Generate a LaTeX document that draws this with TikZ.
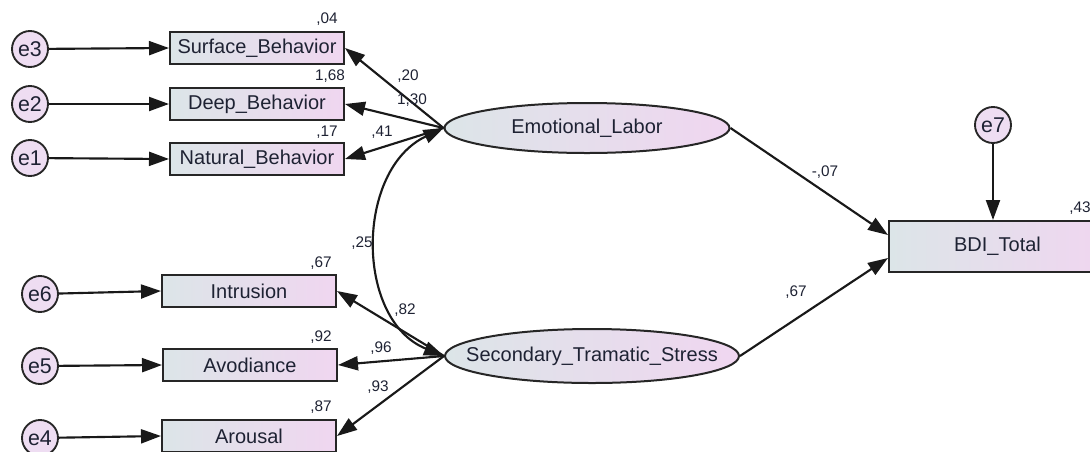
\documentclass[tikz,border=0pt]{standalone}
\usepackage{fontspec}
\setmainfont{Liberation Sans}
\usetikzlibrary{arrows.meta,shapes.geometric}
\definecolor{gl}{HTML}{DCE5E8}
\definecolor{gr}{HTML}{F0D6F0}
\definecolor{ef}{HTML}{EEDDF2}
\definecolor{tx}{HTML}{1E2233}
\begin{document}
\begin{tikzpicture}[x=0.75pt,y=-0.75pt,
  obs/.style={draw=black!85, line width=1.5pt, left color=gl, right color=gr,
    minimum width=130.5pt, minimum height=24pt, inner sep=0pt, text=tx,
    font=\fontsize{15}{15}\selectfont},
  lat/.style={ellipse, draw=black!85, line width=1.5pt, left color=gl, right color=gr,
    inner sep=0pt},
  lattext/.style={text=tx, font=\fontsize{15}{15}\selectfont, inner sep=0pt},
  err/.style={circle, draw=black!85, line width=1.4pt, fill=ef, minimum size=27pt,
    inner sep=0pt, text=tx, font=\fontsize{16}{16}\selectfont},
  lbl/.style={font=\fontsize{11.5}{12}\selectfont, text=tx, inner sep=0pt},
  conn/.style={line width=1.6pt, draw=black!90, -{Triangle[length=15pt,width=10.5pt]}},
  biconn/.style={line width=1.6pt, draw=black!90, {Triangle[length=15pt,width=10.5pt]}-{Triangle[length=15pt,width=10.5pt]}}
]
\useasboundingbox (0,0) rectangle (1090,451);

% error circles
\node[err] (e3) at (30,49) {e3};
\node[err] (e2) at (30,104) {e2};
\node[err] (e1) at (30,158) {e1};
\node[err] (e6) at (40,294) {e6};
\node[err] (e5) at (40,366) {e5};
\node[err] (e4) at (40,438) {e4};
\node[err] (e7) at (993,125) {e7};

% observed variables
\node[obs] (sb) at (257,48) {Surface\_Behavior};
\node[obs] (db) at (257,104) {Deep\_Behavior};
\node[obs] (nb) at (257,159) {Natural\_Behavior};
\node[obs] (in) at (249,291) {Intrusion};
\node[obs] (av) at (250,365) {Avodiance};
\node[obs] (ar) at (249,436) {Arousal};
\node[obs, minimum width=162.75pt, minimum height=38.25pt] (bdi) at (997.5,246.5) {BDI\_Total};

% latent variables
\node[lat, minimum width=213.75pt, minimum height=37.5pt,
  label={[lattext]center:Emotional\_Labor}] (el) at (587,128) {};
\node[lat, minimum width=220.5pt, minimum height=40.5pt,
  label={[lattext]center:Secondary\_Tramatic\_Stress}] (sts) at (592,356) {};

% error arrows
\draw[conn] (e3) -- (sb.west);
\draw[conn] (e2) -- (db.west);
\draw[conn] (e1) -- (nb.west);
\draw[conn] (e6) -- (in.west);
\draw[conn] (e5) -- (av.west);
\draw[conn] (e4) -- (ar.west);
\draw[conn] (e7) -- (e7 |- bdi.north);

% loadings
\draw[conn] (el.west) -- (sb.east);
\draw[conn] (el.west) -- (db.east);
\draw[conn] (el.west) -- (nb.east);
\draw[conn] (sts.west) -- (in.east);
\draw[conn] (sts.west) -- (av.east);
\draw[conn] (sts.west) -- (ar.east);

% structural paths
\draw[conn] (el.east) -- (bdi.174);
\draw[conn] (sts.east) -- (bdi.186);

% covariance
\draw[biconn] (el.west) .. controls (355,170) and (355,320) .. (sts.west);

% labels
\node[lbl] (l04) at (327,19) {,04};
\node[lbl] (l168) at (330,76) {1,68};
\node[lbl] (l17) at (327,132) {,17};
\node[lbl] (l20) at (408,76) {,20};
\node[lbl] (l130) at (412,100) {1,30};
\node[lbl] (l41) at (382,132) {,41};
\node[lbl] (l67a) at (321,263) {,67};
\node[lbl] (l92) at (321,337) {,92};
\node[lbl] (l87) at (321,407) {,87};
\node[lbl] (l96) at (381,348) {,96};
\node[lbl] (l93) at (378,387) {,93};
\node[lbl] (l82) at (405,310) {,82};
\node[lbl] (l25) at (362,243) {,25};
\node[lbl] (l07) at (825,172) {-,07};
\node[lbl] (l67b) at (796,292) {,67};
\node[lbl] (l43) at (1080,208) {,43};
\end{tikzpicture}
\end{document}
